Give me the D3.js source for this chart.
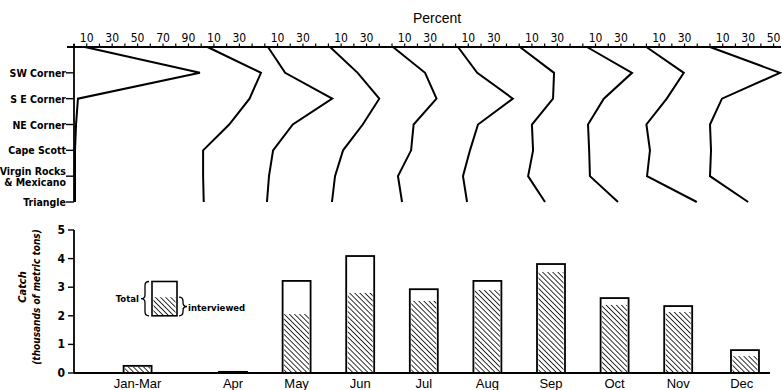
<!DOCTYPE html>
<html>
<head>
<meta charset="utf-8">
<script src="https://cdn.jsdelivr.net/npm/d3@7"></script>
<style>
  body { margin: 0; background: #fff; }
  svg { display: block; }
  text { fill: #000; }
</style>
</head>
<body>
<div id="chart"></div>
<script>
// months and the percent span of each month's profile panel
const months = ["Jan-Mar", "Apr", "May", "Jun", "Jul", "Aug", "Sep", "Oct", "Nov", "Dec"];
const panelSpan = [100, 50, 50, 50, 50, 50, 50, 50, 50, 55];
const panelTicks = [[10, 30, 50, 70, 90], [10, 30], [10, 30], [10, 30], [10, 30], [10, 30], [10, 30], [10, 30], [10, 30], [10, 30, 50]];

// fishing areas (first row is the start point on the percent axis, unlabelled)
const areas = ["", "SW Corner", "S E Corner", "NE Corner", "Cape Scott", "Virgin Rocks|& Mexicano", "Triangle"];

// percent of catch by area, one profile per month
const pctJanMar = [8.6, 99, 3.1, 1.6, 0.8, 0.8, 0.8];
const pctApr = [5, 47, 38, 22, 1.5, 1.5, 2];
const pctMay = [2.5, 16, 53, 22, 6.5, 3.3, 1.7];
const pctJun = [1.3, 23, 40, 27, 11.5, 5.2, 2.8];
const pctJul = [0.8, 26, 35, 17, 15, 4.7, 7.9];
const pctAug = [1.9, 17, 45, 17.6, 11.3, 5.8, 9];
const pctSep = [0.6, 27.4, 26.6, 10, 10.9, 7, 20.3];
const pctOct = [3.3, 38.7, 16.5, 4.1, 5, 5.6, 27.7];
const pctNov = [0, 29.4, 16, 0, 2.8, 0.5, 39.6];
const pctDec = [0, 55, 9.4, 0, 0.8, 0, 30];
const profiles = [pctJanMar, pctApr, pctMay, pctJun, pctJul, pctAug, pctSep, pctOct, pctNov, pctDec];

// catch (thousands of metric tons)
const catchTotal = [0.25, 0.04, 3.22, 4.09, 2.93, 3.22, 3.81, 2.62, 2.34, 0.80];
const catchInterviewed = [0.22, 0.03, 2.06, 2.80, 2.52, 2.90, 3.53, 2.38, 2.13, 0.59];
const catchTicks = [0, 1, 2, 3, 4, 5];

const W = 782, H = 390;
const svg = d3.select("#chart").append("svg").attr("width", W).attr("height", H);

// hatch pattern
const defs = svg.append("defs");
const pat = defs.append("pattern")
  .attr("id", "hatch").attr("patternUnits", "userSpaceOnUse")
  .attr("width", 3.6).attr("height", 3.6)
  .attr("patternTransform", "rotate(-45)");
pat.append("line").attr("x1", 0).attr("y1", 0).attr("x2", 0).attr("y2", 3.6)
  .attr("stroke", "#000").attr("stroke-width", 1.6);

// panel offsets (cumulative percent) -> one shared x scale
const offsets = [];
panelSpan.reduce((acc, s, i) => { offsets[i] = acc; return acc + (i < 9 ? s : 0); }, 0);
const x = d3.scaleLinear().domain([0, 550]).range([74, 773.6]);
const yTop = d3.scalePoint().domain(d3.range(areas.length)).range([47, 202]);

const narrow = "'Liberation Sans Narrow', 'DejaVu Sans Condensed', 'Arial Narrow', sans-serif";

// ---- top panel ----
const topG = svg.append("g");

topG.append("text")
  .attr("x", 437).attr("y", 23)
  .attr("text-anchor", "middle")
  .attr("font-family", "'Liberation Sans', Arial, sans-serif")
  .attr("font-size", 14)
  .text("Percent");

topG.append("line")
  .attr("x1", 67).attr("x2", 781)
  .attr("y1", yTop(0)).attr("y2", yTop(0))
  .attr("stroke", "#000").attr("stroke-width", 1.8);

topG.selectAll(".ptick")
  .data(d3.range(0, 551, 10))
  .join("line")
  .attr("x1", d => x(d)).attr("x2", d => x(d))
  .attr("y1", yTop(0)).attr("y2", yTop(0) - 3.5)
  .attr("stroke", "#000").attr("stroke-width", 1.2);

const tickLabels = [];
panelTicks.forEach((ts, i) => ts.forEach(t => tickLabels.push({ v: offsets[i] + t, t })));
topG.selectAll(".plab")
  .data(tickLabels)
  .join("text")
  .attr("x", d => x(d.v)).attr("y", 42)
  .attr("text-anchor", "middle")
  .attr("font-family", narrow)
  .attr("font-size", 12)
  .text(d => d.t);

// vertical area axis
topG.append("line")
  .attr("x1", x(0)).attr("x2", x(0))
  .attr("y1", yTop(0) - 3).attr("y2", yTop(6))
  .attr("stroke", "#000").attr("stroke-width", 1.8);

const rows = d3.range(1, areas.length);
topG.selectAll(".atick")
  .data(rows)
  .join("line")
  .attr("x1", x(0) - 8).attr("x2", x(0))
  .attr("y1", d => yTop(d)).attr("y2", d => yTop(d))
  .attr("stroke", "#000").attr("stroke-width", 1.4);

const alab = topG.selectAll(".alab")
  .data(rows)
  .join("text")
  .attr("text-anchor", "end")
  .attr("font-family", narrow)
  .attr("font-weight", "bold")
  .attr("font-size", 10.5);
alab.each(function (d) {
  const parts = areas[d].split("|");
  const t = d3.select(this);
  if (parts.length === 1) {
    t.append("tspan").attr("x", x(0) - 8).attr("y", yTop(d) + 4).text(parts[0]);
  } else {
    t.append("tspan").attr("x", x(0) - 8).attr("y", yTop(d) - 1).text(parts[0]);
    t.append("tspan").attr("x", x(0) - 8).attr("y", yTop(d) + 10).text(parts[1]);
  }
});

// profiles
const line = d3.line();
topG.selectAll(".profile")
  .data(profiles)
  .join("path")
  .attr("fill", "none")
  .attr("stroke", "#000")
  .attr("stroke-width", 2)
  .attr("stroke-linejoin", "miter")
  .attr("d", (p, i) => line(p.map((v, j) => [x(offsets[i] + v), yTop(j)])));

// ---- bottom panel ----
const yB = d3.scaleLinear().domain([0, 5]).range([373, 230]);
const bot = svg.append("g");
const barW = 22;

const bars = bot.selectAll(".bar")
  .data(months.map((m, i) => ({ m, i, total: catchTotal[i], inter: catchInterviewed[i] })))
  .join("g");

bars.append("rect")
  .attr("x", d => x(offsets[d.i] + panelSpan[d.i] / 2 - barW / 2))
  .attr("width", x(barW) - x(0))
  .attr("y", d => yB(d.total))
  .attr("height", d => yB(0) - yB(d.total))
  .attr("fill", "#fff").attr("stroke", "#000").attr("stroke-width", 1.8);

bars.append("rect")
  .attr("x", d => x(offsets[d.i] + panelSpan[d.i] / 2 - barW / 2) + 1.5)
  .attr("width", x(barW) - x(0) - 3)
  .attr("y", d => yB(d.inter))
  .attr("height", d => yB(0) - yB(d.inter))
  .attr("fill", "url(#hatch)");

bot.selectAll(".mlab")
  .data(months)
  .join("text")
  .attr("x", (m, i) => x(offsets[i] + panelSpan[i] / 2 - (i === 9 ? 2.5 : 0)))
  .attr("y", 388)
  .attr("text-anchor", "middle")
  .attr("font-family", "'Liberation Sans', Arial, sans-serif")
  .attr("font-size", 13)
  .text(m => m);

// axes
bot.append("line")
  .attr("x1", x(0)).attr("x2", 770)
  .attr("y1", yB(0)).attr("y2", yB(0))
  .attr("stroke", "#000").attr("stroke-width", 1.8);
bot.append("line")
  .attr("x1", x(0)).attr("x2", x(0))
  .attr("y1", yB(0)).attr("y2", yB(5))
  .attr("stroke", "#000").attr("stroke-width", 1.8);

bot.selectAll(".ctick")
  .data(catchTicks)
  .join("line")
  .attr("x1", x(0) - 6).attr("x2", x(0))
  .attr("y1", d => yB(d)).attr("y2", d => yB(d))
  .attr("stroke", "#000").attr("stroke-width", 1.4);
bot.selectAll(".clab")
  .data(catchTicks)
  .join("text")
  .attr("x", x(0) - 9).attr("y", d => yB(d) + 4)
  .attr("text-anchor", "end")
  .attr("font-family", narrow)
  .attr("font-weight", "bold")
  .attr("font-size", 12)
  .text(d => d);

// y title
const yt = bot.append("g").attr("transform", "translate(26,300) rotate(-90)");
yt.append("text")
  .attr("x", 13).attr("y", 0)
  .attr("text-anchor", "middle")
  .attr("font-family", narrow)
  .attr("font-weight", "bold").attr("font-style", "italic")
  .attr("font-size", 11)
  .text("Catch");
yt.append("text")
  .attr("x", 3).attr("y", 14)
  .attr("text-anchor", "middle")
  .attr("font-family", narrow)
  .attr("font-weight", "bold").attr("font-style", "italic")
  .attr("font-size", 10)
  .text("(thousands of metric tons)");

// legend
const lg = bot.append("g");
const lx = 152, lw = 25;
const lTop = yB(3.2), lBot = yB(2), lHatch = yB(2.65);
lg.append("rect")
  .attr("x", lx).attr("width", lw)
  .attr("y", lTop).attr("height", lBot - lTop)
  .attr("fill", "#fff").attr("stroke", "#000").attr("stroke-width", 1.6);
lg.append("rect")
  .attr("x", lx + 1.5).attr("width", lw - 3)
  .attr("y", lHatch).attr("height", lBot - lHatch)
  .attr("fill", "url(#hatch)");

// curly braces drawn as paths
function brace(xEdge, y0, y1, dir) {
  const p = d3.path();
  const m = (y0 + y1) / 2, xs = xEdge, xb = xEdge - 4 * dir, xt = xEdge - 8 * dir;
  p.moveTo(xs, y0);
  p.quadraticCurveTo(xb, y0, xb, y0 + 4);
  p.lineTo(xb, m - 4);
  p.quadraticCurveTo(xb, m, xt, m);
  p.quadraticCurveTo(xb, m, xb, m + 4);
  p.lineTo(xb, y1 - 4);
  p.quadraticCurveTo(xb, y1, xs, y1);
  return p.toString();
}
lg.append("path")
  .attr("d", brace(lx - 3, lTop, lBot, 1))
  .attr("fill", "none").attr("stroke", "#000").attr("stroke-width", 1.3);
lg.append("path")
  .attr("d", brace(lx + lw + 2, lHatch, lBot, -1))
  .attr("fill", "none").attr("stroke", "#000").attr("stroke-width", 1.3);

lg.append("text")
  .attr("x", 139).attr("y", (lTop + lBot) / 2 + 3)
  .attr("text-anchor", "end")
  .attr("font-family", narrow)
  .attr("font-weight", "bold")
  .attr("font-size", 9.5)
  .text("Total");
lg.append("text")
  .attr("x", 188).attr("y", (lHatch + lBot) / 2 + 4)
  .attr("font-family", narrow)
  .attr("font-weight", "bold")
  .attr("font-size", 9.5)
  .text("interviewed");
</script>
</body>
</html>
